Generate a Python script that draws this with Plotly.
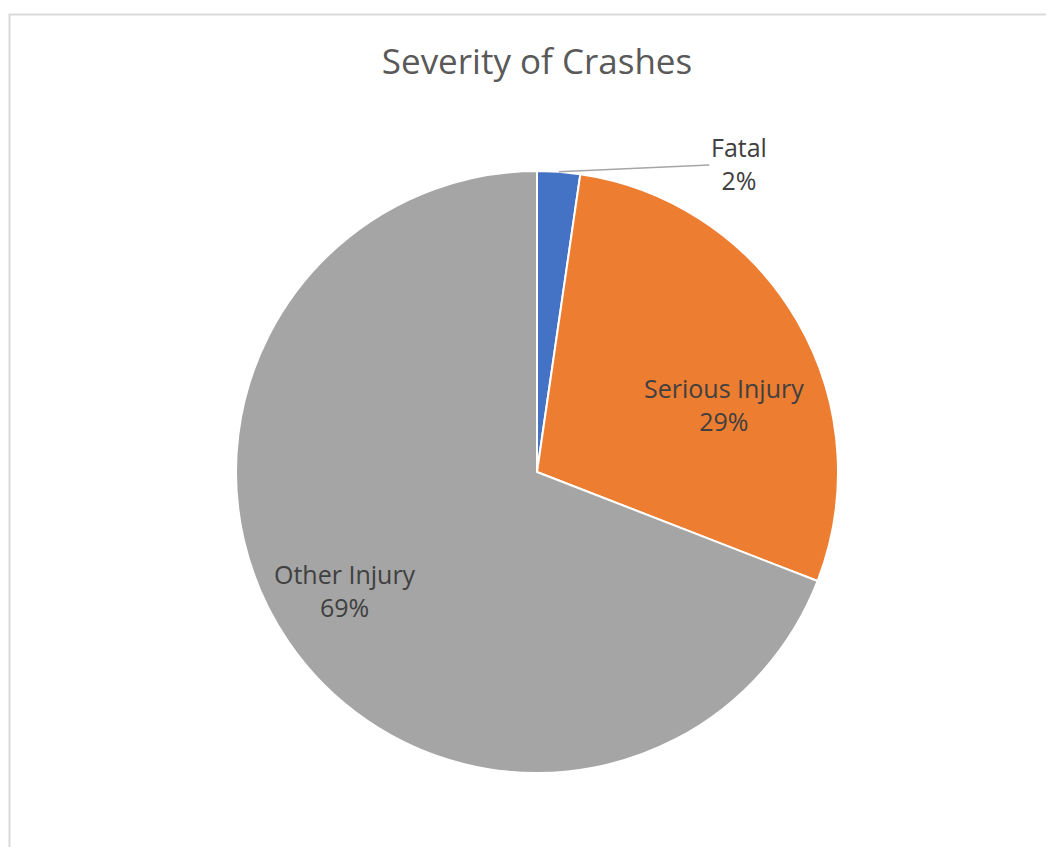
import math
import plotly.graph_objects as go

W, H = 1054, 847
OFF = 8  # page body margin the figure sits inside

categories = ["Fatal", "Serious Injury", "Other Injury"]
shares = [2.3, 28.6, 69.1]
colors = ["#4472C4", "#ED7D31", "#A5A5A5"]

# label placement (fraction of radius, angle nudge in degrees)
label_radius = [1.0, 0.66, 0.75]
label_nudge = [0.0, 10.5, 2.8]

# pie box in pixels (centre 537,472, radius 301) in screenshot coords
cx, cy, r = 537 - OFF, 472 - OFF, 301
dom_x = [(cx - r) / W, (cx + r) / W]
dom_y = [(H - cy - r) / H, (H - cy + r) / H]

font = dict(family="Open Sans", size=25, color="#404040")

fig = go.Figure(go.Pie(
    labels=categories,
    values=shares,
    sort=False,
    direction="clockwise",
    rotation=0,
    marker=dict(colors=colors, line=dict(color="white", width=2)),
    textinfo="none",
    domain=dict(x=dom_x, y=dom_y),
    showlegend=False,
    hoverinfo="label+percent",
))

total = sum(shares)
start = 0.0
for i, (name, val) in enumerate(zip(categories, shares)):
    mid = (start + val / 2) / total * 360 + label_nudge[i]
    start += val
    a = math.radians(mid)
    px = (cx + label_radius[i] * r * math.sin(a)) / W
    py = (H - cy + label_radius[i] * r * math.cos(a)) / H
    text = f"{name}<br>{round(val / total * 100)}%"
    if i == 0:
        # small slice: label outside with a leader line
        fig.add_annotation(
            x=px, y=py, xref="paper", yref="paper", text=text,
            showarrow=True, arrowhead=0, arrowwidth=1.5, arrowcolor="#A6A6A6",
            ax=180, ay=-8, font=font,
        )
    else:
        fig.add_annotation(
            x=px, y=py, xref="paper", yref="paper", text=text,
            xanchor="center", yanchor="middle",
            showarrow=False, font=font,
        )

# chart area border
fig.add_shape(type="rect", xref="paper", yref="paper",
              x0=(9.5 - OFF) / W, x1=1.05, y0=-0.05, y1=1 - (14.5 - OFF) / H,
              line=dict(color="#D9D9D9", width=2), fillcolor="rgba(0,0,0,0)")

fig.update_layout(
    width=W, height=H,
    margin=dict(l=0, r=0, t=0, b=0),
    paper_bgcolor="white",
    title=dict(text="Severity of Crashes", x=cx / W, xanchor="center",
               y=1 - (62 - OFF) / H, yanchor="middle",
               font=dict(family="Open Sans", size=35, color="#595959")),
)

fig.write_html("out.html")
